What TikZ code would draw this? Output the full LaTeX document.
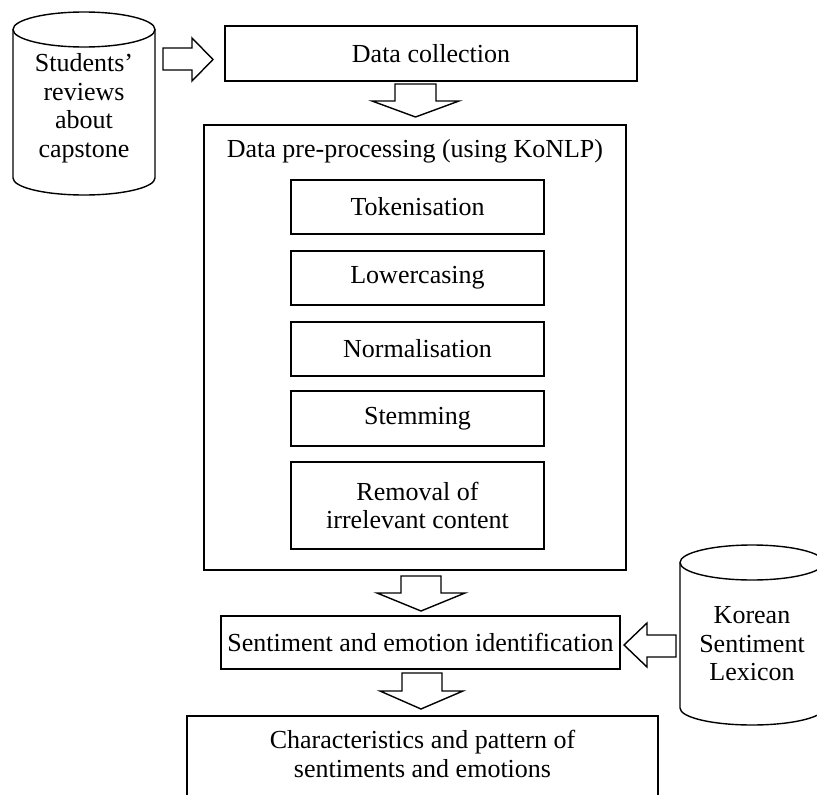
\documentclass[tikz,border=0pt]{standalone}
\usepackage{fontspec}
\setmainfont{Liberation Serif}
\begin{document}
\begin{tikzpicture}[x=1pt,y=-1pt,
  line width=1.4pt,
  txt/.style={font=\fontsize{26}{28.5}\selectfont, align=center, inner sep=0pt},
  box/.style={draw, txt, rectangle},
  bigarrow/.style={draw, line width=1.4pt, fill=white, line join=miter}]
\useasboundingbox (0,0) rectangle (817,795);

% cylinder 1
\draw (13,29.5) -- (13,178) arc[start angle=180, end angle=360, x radius=71pt, y radius=17pt] -- (155,29.5);
\draw (84,29.5) ellipse [x radius=71pt, y radius=17.5pt];
\node[txt] (rev) at (84,108) {Students'\\reviews\\about\\capstone};

% cylinder 2
\draw (680,562.5) -- (680,708) arc[start angle=180, end angle=360, x radius=72pt, y radius=17pt] -- (824,562.5);
\draw (752,562.5) ellipse [x radius=72pt, y radius=17.5pt];
\node[txt] (lex) at (752,644) {Korean\\Sentiment\\Lexicon};

% boxes
\node[box, minimum width=412pt, minimum height=55pt] (dc) at (431,53.5) {Data collection};
\node[draw, rectangle, minimum width=422pt, minimum height=445pt] (pre) at (415,347.5) {};
\node[txt, anchor=base] (pret) at (415,157) {Data pre-processing (using KoNLP)};
\node[box, minimum width=253pt, minimum height=54pt] (tok) at (417.5,207) {Tokenisation};
\node[box, minimum width=253pt, minimum height=54pt] (low) at (417.5,278) {Lowercasing};
\node[box, minimum width=253pt, minimum height=54pt] (nor) at (417.5,349) {Normalisation};
\node[box, minimum width=253pt, minimum height=55pt] (stem) at (417.5,418.5) {Stemming};
\node[box, minimum width=253pt, minimum height=87pt] (rem) at (417.5,505.5) {Removal of\\irrelevant content};
\node[box, minimum width=399pt, minimum height=53pt] (sent) at (420.5,642.5) {Sentiment and emotion identification};
\node[txt] (res) at (422.5,754) {Characteristics and pattern of\\sentiments and emotions};
\begin{scope}
\clip (0,0) rectangle (817,795);
\draw (187,830) -- (187,716) -- (658,716) -- (658,830);
\end{scope}

% block arrows
\draw[bigarrow] (163,48) -- (192,48) -- (192,38) -- (213,59.5) -- (192,81) -- (192,70) -- (163,70) -- cycle;
\draw[bigarrow] (395,84) -- (436,84) -- (436,101) -- (459,101) -- (415.5,117) -- (372,101) -- (395,101) -- cycle;
\draw[bigarrow] (401,576) -- (441,576) -- (441,593) -- (465,593) -- (421,611) -- (377,593) -- (401,593) -- cycle;
\draw[bigarrow] (402,673) -- (442,673) -- (442,691) -- (463,691) -- (421,709) -- (380,691) -- (402,691) -- cycle;
\draw[bigarrow] (676,635) -- (647,635) -- (647,623) -- (624,645) -- (647,667) -- (647,657) -- (676,657) -- cycle;
\end{tikzpicture}
\end{document}
